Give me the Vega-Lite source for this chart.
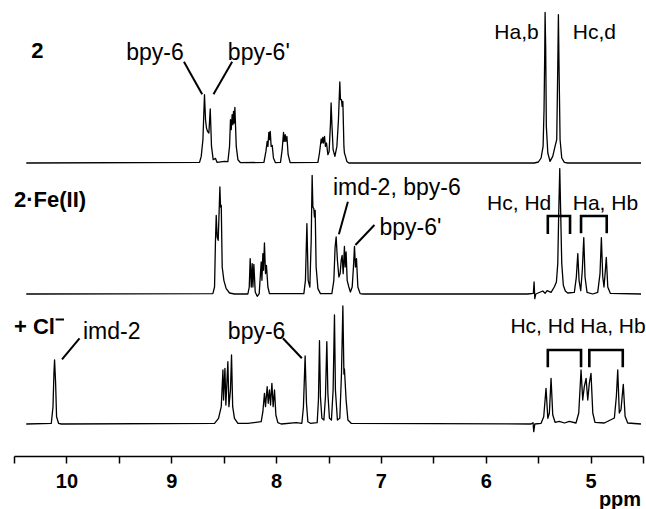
{
  "$schema": "https://vega.github.io/schema/vega-lite/v6.json",
  "padding": {"left": 13, "top": 0, "right": 0, "bottom": 0},
  "autosize": {"type": "pad"},
  "spacing": 0,
  "bounds": "flush",
  "config": {"view": {"stroke": null}, "font": "Liberation Sans"},
  "resolve": {"scale": {"x": "independent", "y": "independent"}},
  "vconcat": [
    {
      "width": 629,
      "height": 163,
      "encoding": {
        "x": {"field": "ppm", "type": "quantitative", "scale": {"domain": [4.5, 10.5], "reverse": true, "nice": false, "zero": false}, "axis": null},
        "y": {"field": "intensity", "type": "quantitative", "scale": {"domain": [0, 163], "nice": false, "zero": false}, "axis": null}
      },
      "layer": [
        {
          "data": {"values": [
            {"ppm": 10.383, "intensity": 0}, {"ppm": 8.730, "intensity": 0.6}, {"ppm": 8.714, "intensity": 6.6}, {"ppm": 8.698, "intensity": 23.3},
            {"ppm": 8.683, "intensity": 68.3}, {"ppm": 8.673, "intensity": 43.3}, {"ppm": 8.664, "intensity": 35}, {"ppm": 8.654, "intensity": 31.6},
            {"ppm": 8.641, "intensity": 30}, {"ppm": 8.628, "intensity": 54}, {"ppm": 8.616, "intensity": 16.6}, {"ppm": 8.600, "intensity": 3.3},
            {"ppm": 8.578, "intensity": 4.6}, {"ppm": 8.562, "intensity": 0.6}, {"ppm": 8.492, "intensity": 1.7}, {"ppm": 8.460, "intensity": 1.3},
            {"ppm": 8.444, "intensity": 16.6}, {"ppm": 8.435, "intensity": 43.3}, {"ppm": 8.428, "intensity": 33.3}, {"ppm": 8.419, "intensity": 48.3},
            {"ppm": 8.412, "intensity": 38.3}, {"ppm": 8.406, "intensity": 51.6}, {"ppm": 8.400, "intensity": 40}, {"ppm": 8.393, "intensity": 55.6},
            {"ppm": 8.380, "intensity": 16.6}, {"ppm": 8.364, "intensity": 3.3}, {"ppm": 8.339, "intensity": 0.3},
            {"ppm": 8.116, "intensity": 0.6}, {"ppm": 8.097, "intensity": 11.6}, {"ppm": 8.085, "intensity": 21.6}, {"ppm": 8.078, "intensity": 16.6},
            {"ppm": 8.069, "intensity": 30.6}, {"ppm": 8.063, "intensity": 23.3}, {"ppm": 8.056, "intensity": 31.6}, {"ppm": 8.047, "intensity": 16.6},
            {"ppm": 8.037, "intensity": 17.6}, {"ppm": 8.025, "intensity": 5}, {"ppm": 8.006, "intensity": 0.3},
            {"ppm": 7.958, "intensity": 0.6}, {"ppm": 7.942, "intensity": 13.3}, {"ppm": 7.929, "intensity": 30.6}, {"ppm": 7.923, "intensity": 21.6},
            {"ppm": 7.913, "intensity": 28.3}, {"ppm": 7.907, "intensity": 21.6}, {"ppm": 7.897, "intensity": 26.6}, {"ppm": 7.885, "intensity": 8.3},
            {"ppm": 7.866, "intensity": 0.3},
            {"ppm": 7.601, "intensity": 0.6}, {"ppm": 7.586, "intensity": 10}, {"ppm": 7.570, "intensity": 24}, {"ppm": 7.563, "intensity": 20},
            {"ppm": 7.554, "intensity": 25.6}, {"ppm": 7.548, "intensity": 20}, {"ppm": 7.538, "intensity": 26.6}, {"ppm": 7.529, "intensity": 16.6},
            {"ppm": 7.519, "intensity": 20}, {"ppm": 7.506, "intensity": 8.3}, {"ppm": 7.494, "intensity": 11.6}, {"ppm": 7.481, "intensity": 40},
            {"ppm": 7.475, "intensity": 60}, {"ppm": 7.468, "intensity": 40}, {"ppm": 7.456, "intensity": 13.3}, {"ppm": 7.439, "intensity": 6.6},
            {"ppm": 7.420, "intensity": 16.6}, {"ppm": 7.405, "intensity": 43.3}, {"ppm": 7.392, "intensity": 81}, {"ppm": 7.386, "intensity": 63.3},
            {"ppm": 7.376, "intensity": 63.3}, {"ppm": 7.370, "intensity": 56.6}, {"ppm": 7.363, "intensity": 61.6}, {"ppm": 7.353, "intensity": 16.6},
            {"ppm": 7.348, "intensity": 10}, {"ppm": 7.338, "intensity": 6.6}, {"ppm": 7.325, "intensity": 1.6}, {"ppm": 7.306, "intensity": 0},
            {"ppm": 5.536, "intensity": 0}, {"ppm": 5.498, "intensity": 1}, {"ppm": 5.472, "intensity": 5}, {"ppm": 5.453, "intensity": 16.6},
            {"ppm": 5.444, "intensity": 53.3}, {"ppm": 5.437, "intensity": 113.3}, {"ppm": 5.434, "intensity": 150.6}, {"ppm": 5.428, "intensity": 113.3},
            {"ppm": 5.422, "intensity": 36.6}, {"ppm": 5.408, "intensity": 10}, {"ppm": 5.387, "intensity": 1.6}, {"ppm": 5.361, "intensity": 6.6},
            {"ppm": 5.339, "intensity": 16.6}, {"ppm": 5.323, "intensity": 23.3}, {"ppm": 5.313, "intensity": 96.6}, {"ppm": 5.307, "intensity": 148.3},
            {"ppm": 5.301, "intensity": 96.6}, {"ppm": 5.291, "intensity": 23.3}, {"ppm": 5.275, "intensity": 5}, {"ppm": 5.250, "intensity": 0.6},
            {"ppm": 5.218, "intensity": 0}, {"ppm": 4.519, "intensity": 0}
          ]},
          "mark": {"type": "line", "color": "black", "strokeWidth": 1.3, "strokeJoin": "round"}
        },
        {
          "data": {"values": [{"ppm": 10.335, "intensity": 105.3, "label": "2"}]},
          "mark": {"type": "text", "align": "left", "baseline": "alphabetic", "font": "Liberation Sans", "fontSize": 22, "fontWeight": "bold", "color": "black"},
          "encoding": {"text": {"field": "label"}}
        },
        {
          "data": {"values": [{"ppm": 9.429, "intensity": 103, "label": "bpy-6"}, {"ppm": 8.460, "intensity": 103, "label": "bpy-6'"}]},
          "mark": {"type": "text", "align": "left", "baseline": "alphabetic", "font": "Liberation Sans", "fontSize": 23, "color": "black"},
          "encoding": {"text": {"field": "label"}}
        },
        {
          "data": {"values": [{"ppm": 5.918, "intensity": 124.5, "label": "Ha,b"}, {"ppm": 5.170, "intensity": 124.5, "label": "Hc,d"}]},
          "mark": {"type": "text", "align": "left", "baseline": "alphabetic", "font": "Liberation Sans", "fontSize": 21, "color": "black"},
          "encoding": {"text": {"field": "label"}}
        },
        {
          "data": {"values": [
            {"ppm": 8.879, "intensity": 101.3, "ppm2": 8.705, "intensity2": 68.7},
            {"ppm": 8.419, "intensity": 101.3, "ppm2": 8.597, "intensity2": 68.7}
          ]},
          "mark": {"type": "rule", "color": "black", "strokeWidth": 2},
          "encoding": {"x2": {"field": "ppm2"}, "y2": {"field": "intensity2"}}
        }
      ]
    },
    {
      "width": 629,
      "height": 131,
      "encoding": {
        "x": {"field": "ppm", "type": "quantitative", "scale": {"domain": [4.5, 10.5], "reverse": true, "nice": false, "zero": false}, "axis": null},
        "y": {"field": "intensity", "type": "quantitative", "scale": {"domain": [0, 131], "nice": false, "zero": false}, "axis": null}
      },
      "layer": [
        {
          "data": {"values": [
            {"ppm": 10.383, "intensity": 0}, {"ppm": 8.603, "intensity": 0.4}, {"ppm": 8.587, "intensity": 7}, {"ppm": 8.578, "intensity": 53.7},
            {"ppm": 8.571, "intensity": 78.7}, {"ppm": 8.562, "intensity": 57}, {"ppm": 8.552, "intensity": 53.7}, {"ppm": 8.536, "intensity": 107},
            {"ppm": 8.530, "intensity": 87}, {"ppm": 8.523, "intensity": 88.7}, {"ppm": 8.514, "intensity": 27}, {"ppm": 8.498, "intensity": 13.7},
            {"ppm": 8.476, "intensity": 5.4}, {"ppm": 8.444, "intensity": 1}, {"ppm": 8.397, "intensity": 0},
            {"ppm": 8.269, "intensity": 0}, {"ppm": 8.256, "intensity": 7}, {"ppm": 8.247, "intensity": 35.4}, {"ppm": 8.237, "intensity": 7},
            {"ppm": 8.228, "intensity": 30.4}, {"ppm": 8.221, "intensity": 7}, {"ppm": 8.212, "intensity": 29.7}, {"ppm": 8.199, "intensity": 2},
            {"ppm": 8.180, "intensity": -2.3}, {"ppm": 8.161, "intensity": 0.4}, {"ppm": 8.142, "intensity": 32}, {"ppm": 8.135, "intensity": 13.7},
            {"ppm": 8.126, "intensity": 40.4}, {"ppm": 8.120, "intensity": 23.7}, {"ppm": 8.111, "intensity": 51}, {"ppm": 8.101, "intensity": 20.4},
            {"ppm": 8.092, "intensity": 28.7}, {"ppm": 8.078, "intensity": 7}, {"ppm": 8.063, "intensity": 0.4},
            {"ppm": 7.735, "intensity": 0.4}, {"ppm": 7.720, "intensity": 13.7}, {"ppm": 7.706, "intensity": 70.4}, {"ppm": 7.694, "intensity": 13.7},
            {"ppm": 7.678, "intensity": 7}, {"ppm": 7.665, "intensity": 53.7}, {"ppm": 7.656, "intensity": 118.7}, {"ppm": 7.649, "intensity": 87},
            {"ppm": 7.640, "intensity": 85.4}, {"ppm": 7.634, "intensity": 77}, {"ppm": 7.627, "intensity": 83.7}, {"ppm": 7.618, "intensity": 27},
            {"ppm": 7.601, "intensity": 5.4}, {"ppm": 7.577, "intensity": 0.4},
            {"ppm": 7.468, "intensity": 0.4}, {"ppm": 7.449, "intensity": 13.7}, {"ppm": 7.437, "intensity": 47}, {"ppm": 7.427, "intensity": 57},
            {"ppm": 7.415, "intensity": 33.7}, {"ppm": 7.401, "intensity": 17}, {"ppm": 7.389, "intensity": 20.4}, {"ppm": 7.379, "intensity": 33.7},
            {"ppm": 7.370, "intensity": 38.7}, {"ppm": 7.360, "intensity": 20.4}, {"ppm": 7.348, "intensity": 47.7}, {"ppm": 7.341, "intensity": 27},
            {"ppm": 7.332, "intensity": 42}, {"ppm": 7.322, "intensity": 13.7}, {"ppm": 7.306, "intensity": 7}, {"ppm": 7.291, "intensity": 2},
            {"ppm": 7.274, "intensity": 7}, {"ppm": 7.262, "intensity": 27}, {"ppm": 7.252, "intensity": 47.7}, {"ppm": 7.243, "intensity": 27},
            {"ppm": 7.233, "intensity": 35.4}, {"ppm": 7.220, "intensity": 7}, {"ppm": 7.198, "intensity": 0.4}, {"ppm": 7.172, "intensity": 0},
            {"ppm": 5.599, "intensity": 0}, {"ppm": 5.546, "intensity": 0.7}, {"ppm": 5.539, "intensity": 12}, {"ppm": 5.532, "intensity": -4.6},
            {"ppm": 5.523, "intensity": 0}, {"ppm": 5.456, "intensity": 3}, {"ppm": 5.434, "intensity": 0.7}, {"ppm": 5.415, "intensity": 3.4},
            {"ppm": 5.377, "intensity": 1.7}, {"ppm": 5.346, "intensity": 7}, {"ppm": 5.326, "intensity": 12}, {"ppm": 5.313, "intensity": 30.4},
            {"ppm": 5.304, "intensity": 80.4}, {"ppm": 5.294, "intensity": 125.4}, {"ppm": 5.285, "intensity": 80.4}, {"ppm": 5.275, "intensity": 30.4},
            {"ppm": 5.260, "intensity": 8.7}, {"ppm": 5.241, "intensity": 3}, {"ppm": 5.218, "intensity": 1}, {"ppm": 5.155, "intensity": 1.7},
            {"ppm": 5.136, "intensity": 16.7}, {"ppm": 5.122, "intensity": 40.4}, {"ppm": 5.110, "intensity": 13.7}, {"ppm": 5.094, "intensity": 3.4},
            {"ppm": 5.079, "intensity": 23.7}, {"ppm": 5.065, "intensity": 56.4}, {"ppm": 5.053, "intensity": 17}, {"ppm": 5.034, "intensity": 1.7},
            {"ppm": 4.979, "intensity": 0}, {"ppm": 4.932, "intensity": 1.7}, {"ppm": 4.910, "intensity": 20.4}, {"ppm": 4.897, "intensity": 56.4},
            {"ppm": 4.884, "intensity": 17}, {"ppm": 4.872, "intensity": 7}, {"ppm": 4.859, "intensity": 23.7}, {"ppm": 4.850, "intensity": 36.7},
            {"ppm": 4.836, "intensity": 7}, {"ppm": 4.812, "intensity": 0.7}, {"ppm": 4.519, "intensity": 0}
          ]},
          "mark": {"type": "line", "color": "black", "strokeWidth": 1.3, "strokeJoin": "round"}
        },
        {
          "data": {"values": [{"ppm": 10.5, "intensity": 86.6, "label": "2·Fe(II)"}]},
          "mark": {"type": "text", "align": "left", "baseline": "alphabetic", "font": "Liberation Sans", "fontSize": 22, "fontWeight": "bold", "color": "black"},
          "encoding": {"text": {"field": "label"}}
        },
        {
          "data": {"values": [{"ppm": 7.458, "intensity": 98.9, "label": "imd-2, bpy-6"}, {"ppm": 7.014, "intensity": 59, "label": "bpy-6'"}]},
          "mark": {"type": "text", "align": "left", "baseline": "alphabetic", "font": "Liberation Sans", "fontSize": 23, "color": "black"},
          "encoding": {"text": {"field": "label"}}
        },
        {
          "data": {"values": [{"ppm": 5.987, "intensity": 84, "label": "Hc, Hd"}, {"ppm": 5.170, "intensity": 84, "label": "Ha, Hb"}]},
          "mark": {"type": "text", "align": "left", "baseline": "alphabetic", "font": "Liberation Sans", "fontSize": 21, "color": "black"},
          "encoding": {"text": {"field": "label"}}
        },
        {
          "data": {"values": [
            {"ppm": 7.315, "intensity": 92.3, "ppm2": 7.401, "intensity2": 59.7},
            {"ppm": 7.062, "intensity": 69, "ppm2": 7.243, "intensity2": 49}
          ]},
          "mark": {"type": "rule", "color": "black", "strokeWidth": 2},
          "encoding": {"x2": {"field": "ppm2"}, "y2": {"field": "intensity2"}}
        },
        {
          "data": {"values": [
            {"b": "A", "o": 1, "ppm": 5.408, "intensity": 60}, {"b": "A", "o": 2, "ppm": 5.408, "intensity": 78},
            {"b": "A", "o": 3, "ppm": 5.196, "intensity": 78}, {"b": "A", "o": 4, "ppm": 5.196, "intensity": 60},
            {"b": "B", "o": 1, "ppm": 5.091, "intensity": 60.7}, {"b": "B", "o": 2, "ppm": 5.091, "intensity": 78},
            {"b": "B", "o": 3, "ppm": 4.846, "intensity": 78}, {"b": "B", "o": 4, "ppm": 4.846, "intensity": 60.7}
          ]},
          "mark": {"type": "line", "color": "black", "strokeWidth": 2.6, "strokeJoin": "miter", "strokeCap": "butt"},
          "encoding": {"order": {"field": "o", "type": "quantitative"}, "detail": {"field": "b"}}
        }
      ]
    },
    {
      "width": 629,
      "height": 162,
      "encoding": {
        "x": {
          "field": "ppm", "type": "quantitative",
          "scale": {"domain": [4.5, 10.5], "reverse": true, "nice": false, "zero": false},
          "axis": {
            "values": [10.5, 10, 9.5, 9, 8.5, 8, 7.5, 7, 6.5, 6, 5.5, 5, 4.5],
            "labelExpr": "datum.value % 1 === 0 ? format(datum.value, 'd') : ''",
            "labelFont": "Liberation Sans", "labelFontSize": 20, "labelFontWeight": "bold", "labelColor": "black",
            "labelPadding": 8, "labelFlush": false, "labelOverlap": false,
            "tickColor": "black", "tickSize": 7, "tickWidth": 1.5,
            "domainColor": "black", "domainWidth": 1.5, "grid": false,
            "title": "ppm", "titleFont": "Liberation Sans", "titleFontSize": 20, "titleFontWeight": "bold", "titleColor": "black",
            "titleAnchor": "end", "titleAlign": "right", "titleBaseline": "alphabetic", "titleX": 626.6, "titleY": 49
          }
        },
        "y": {"field": "intensity", "type": "quantitative", "scale": {"domain": [-32, 130], "nice": false, "zero": false}, "axis": null}
      },
      "layer": [
        {
          "data": {"values": [
            {"ppm": 10.383, "intensity": 0}, {"ppm": 10.144, "intensity": 0.7}, {"ppm": 10.128, "intensity": 17.3}, {"ppm": 10.119, "intensity": 50.7},
            {"ppm": 10.113, "intensity": 64}, {"ppm": 10.103, "intensity": 40.7}, {"ppm": 10.094, "intensity": 7.3}, {"ppm": 10.075, "intensity": 0.7},
            {"ppm": 10.049, "intensity": 0},
            {"ppm": 8.587, "intensity": 0.7}, {"ppm": 8.549, "intensity": 5.7}, {"ppm": 8.523, "intensity": 17.3}, {"ppm": 8.507, "intensity": 54},
            {"ppm": 8.501, "intensity": 24}, {"ppm": 8.488, "intensity": 55.7}, {"ppm": 8.479, "intensity": 19}, {"ppm": 8.460, "intensity": 62.3},
            {"ppm": 8.450, "intensity": 17.3}, {"ppm": 8.435, "intensity": 34}, {"ppm": 8.425, "intensity": 69}, {"ppm": 8.414, "intensity": 17.3},
            {"ppm": 8.397, "intensity": 5.7}, {"ppm": 8.364, "intensity": 0.7},
            {"ppm": 8.269, "intensity": 0.7}, {"ppm": 8.142, "intensity": 2.3}, {"ppm": 8.126, "intensity": 12.3}, {"ppm": 8.111, "intensity": 30.7},
            {"ppm": 8.101, "intensity": 17.3}, {"ppm": 8.085, "intensity": 37.3}, {"ppm": 8.075, "intensity": 20.7}, {"ppm": 8.063, "intensity": 34},
            {"ppm": 8.053, "intensity": 19}, {"ppm": 8.040, "intensity": 40.7}, {"ppm": 8.028, "intensity": 17.3}, {"ppm": 8.015, "intensity": 34},
            {"ppm": 8.002, "intensity": 9}, {"ppm": 7.983, "intensity": 1.3}, {"ppm": 7.951, "intensity": 0}, {"ppm": 7.808, "intensity": 1.3},
            {"ppm": 7.754, "intensity": 0.7}, {"ppm": 7.739, "intensity": 17.3}, {"ppm": 7.723, "intensity": 68}, {"ppm": 7.710, "intensity": 20.7},
            {"ppm": 7.697, "intensity": 2.3}, {"ppm": 7.672, "intensity": 0.7},
            {"ppm": 7.608, "intensity": 1.3}, {"ppm": 7.596, "intensity": 24}, {"ppm": 7.586, "intensity": 83.3}, {"ppm": 7.577, "intensity": 27.3},
            {"ppm": 7.563, "intensity": 5.7}, {"ppm": 7.544, "intensity": 4}, {"ppm": 7.529, "intensity": 27.3}, {"ppm": 7.516, "intensity": 82.3},
            {"ppm": 7.506, "intensity": 30.7}, {"ppm": 7.491, "intensity": 5.7}, {"ppm": 7.472, "intensity": 4}, {"ppm": 7.456, "intensity": 34},
            {"ppm": 7.443, "intensity": 109}, {"ppm": 7.434, "intensity": 34}, {"ppm": 7.415, "intensity": 4}, {"ppm": 7.392, "intensity": 5.7},
            {"ppm": 7.376, "intensity": 50.7}, {"ppm": 7.363, "intensity": 118}, {"ppm": 7.353, "intensity": 50}, {"ppm": 7.348, "intensity": 55},
            {"ppm": 7.332, "intensity": 24}, {"ppm": 7.315, "intensity": 4}, {"ppm": 7.284, "intensity": 0.7},
            {"ppm": 5.568, "intensity": 0}, {"ppm": 5.549, "intensity": 1.3}, {"ppm": 5.542, "intensity": -7.7}, {"ppm": 5.532, "intensity": 0},
            {"ppm": 5.472, "intensity": 0.7}, {"ppm": 5.447, "intensity": 7.3}, {"ppm": 5.425, "intensity": 35.7}, {"ppm": 5.408, "intensity": 5.7},
            {"ppm": 5.393, "intensity": 11}, {"ppm": 5.377, "intensity": 45.7}, {"ppm": 5.361, "intensity": 9.3}, {"ppm": 5.339, "intensity": 1.7},
            {"ppm": 5.298, "intensity": 2.7}, {"ppm": 5.250, "intensity": 1}, {"ppm": 5.203, "intensity": 2.7}, {"ppm": 5.139, "intensity": 1},
            {"ppm": 5.113, "intensity": 11}, {"ppm": 5.091, "intensity": 54}, {"ppm": 5.075, "intensity": 24}, {"ppm": 5.060, "intensity": 37.3},
            {"ppm": 5.043, "intensity": 45.7}, {"ppm": 5.027, "intensity": 24}, {"ppm": 5.012, "intensity": 40.7}, {"ppm": 4.996, "intensity": 50.7},
            {"ppm": 4.979, "intensity": 11}, {"ppm": 4.958, "intensity": 1.7}, {"ppm": 4.869, "intensity": 1}, {"ppm": 4.773, "intensity": 6},
            {"ppm": 4.754, "intensity": 27.7}, {"ppm": 4.741, "intensity": 54}, {"ppm": 4.726, "intensity": 11}, {"ppm": 4.710, "intensity": 14.3},
            {"ppm": 4.688, "intensity": 39.7}, {"ppm": 4.671, "intensity": 7.7}, {"ppm": 4.646, "intensity": 1}, {"ppm": 4.519, "intensity": 0}
          ]},
          "mark": {"type": "line", "color": "black", "strokeWidth": 1.3, "strokeJoin": "round"}
        },
        {
          "data": {"values": [{"ppm": 10.5, "intensity": 90, "label": "+ Cl"}]},
          "mark": {"type": "text", "align": "left", "baseline": "alphabetic", "font": "Liberation Sans", "fontSize": 22, "fontWeight": "bold", "color": "black"},
          "encoding": {"text": {"field": "label"}}
        },
        {
          "data": {"values": [{"ppm": 9.842, "intensity": 85.5, "label": "imd-2"}, {"ppm": 8.460, "intensity": 85.5, "label": "bpy-6"}]},
          "mark": {"type": "text", "align": "left", "baseline": "alphabetic", "font": "Liberation Sans", "fontSize": 23, "color": "black"},
          "encoding": {"text": {"field": "label"}}
        },
        {
          "data": {"values": [{"ppm": 5.765, "intensity": 90.7, "label": "Hc, Hd"}, {"ppm": 5.098, "intensity": 90.7, "label": "Ha, Hb"}]},
          "mark": {"type": "text", "align": "left", "baseline": "alphabetic", "font": "Liberation Sans", "fontSize": 21, "color": "black"},
          "encoding": {"text": {"field": "label"}}
        },
        {
          "data": {"values": [
            {"ppm": 9.875, "intensity": 85.7, "ppm2": 10.042, "intensity2": 64.7},
            {"ppm": 7.935, "intensity": 85.7, "ppm2": 7.754, "intensity2": 65.7},
            {"ppm": 10.103, "intensity": 104.5, "ppm2": 10.023, "intensity2": 104.5}
          ]},
          "mark": {"type": "rule", "color": "black", "strokeWidth": 2},
          "encoding": {"x2": {"field": "ppm2"}, "y2": {"field": "intensity2"}}
        },
        {
          "data": {"values": [
            {"b": "A", "o": 1, "ppm": 5.408, "intensity": 56.7}, {"b": "A", "o": 2, "ppm": 5.408, "intensity": 74},
            {"b": "A", "o": 3, "ppm": 5.091, "intensity": 74}, {"b": "A", "o": 4, "ppm": 5.091, "intensity": 56.7},
            {"b": "B", "o": 1, "ppm": 5.012, "intensity": 56.7}, {"b": "B", "o": 2, "ppm": 5.012, "intensity": 74},
            {"b": "B", "o": 3, "ppm": 4.693, "intensity": 74}, {"b": "B", "o": 4, "ppm": 4.693, "intensity": 56.7}
          ]},
          "mark": {"type": "line", "color": "black", "strokeWidth": 2.6, "strokeJoin": "miter", "strokeCap": "butt"},
          "encoding": {"order": {"field": "o", "type": "quantitative"}, "detail": {"field": "b"}}
        }
      ]
    }
  ]
}
